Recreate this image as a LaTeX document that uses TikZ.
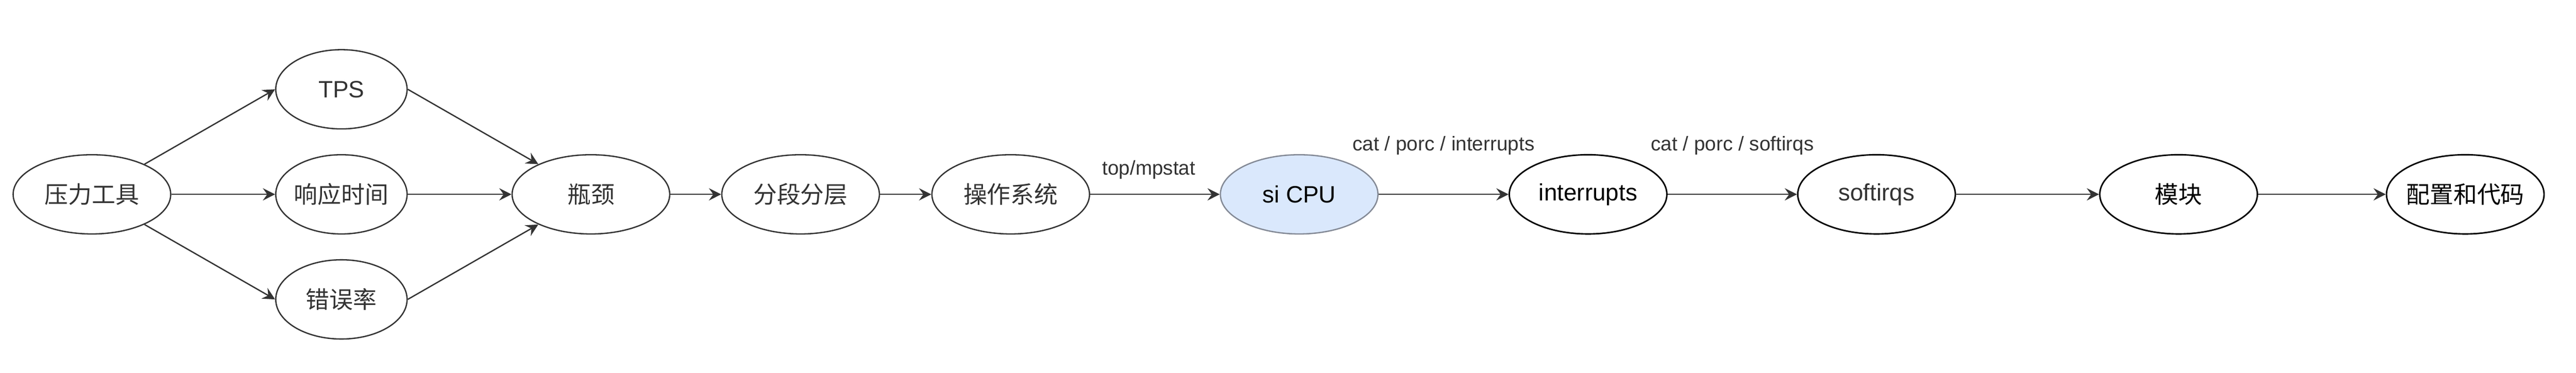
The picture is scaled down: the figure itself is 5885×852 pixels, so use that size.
\documentclass[tikz,border=0pt]{standalone}
\usepackage{fontspec}
\setmainfont{Liberation Sans}
\newfontfamily\cjk{Noto Sans CJK SC}
\usetikzlibrary{shapes.geometric,arrows.meta}
\definecolor{dk}{HTML}{333333}
\definecolor{siFill}{HTML}{DAE8FC}
\definecolor{siDraw}{HTML}{848A96}
\tikzset{
  ell/.style={ellipse, draw=dk, line width=0.75pt, minimum width=90pt, minimum height=45.25pt,
    inner sep=0pt, inner xsep=-4pt, text=dk, font=\fontsize{13.5}{16}\selectfont},
  ellnarrow/.style={ell, minimum width=75pt},
  ellk/.style={ell, draw=black, line width=0.85pt, text=black},
  conn/.style={draw=dk, line width=0.75pt, -{Stealth[length=7pt,width=7pt,inset=2.5pt]}},
  lbl/.style={text=dk, font=\fontsize{11.4}{13}\selectfont, inner sep=0pt}
}
\begin{document}
\begin{tikzpicture}[x=0.25pt,y=-0.25pt]
\useasboundingbox (0,0) rectangle (5885,852);
\node[ell] (press) at (210,444) {\cjk 压力工具};
\node[ellnarrow] (tps) at (780,204) {TPS};
\node[ellnarrow] (resp) at (780,444) {\cjk 响应时间};
\node[ellnarrow] (err) at (780,684) {\cjk 错误率};
\node[ell] (bn) at (1350,444) {\cjk 瓶颈};
\node[ell] (fd) at (1829,444) {\cjk 分段分层};
\node[ell] (os) at (2309,444) {\cjk 操作系统};
\node[ell, fill=siFill, draw=siDraw, text=black] (si) at (2968,444) {si CPU};
\node[ellk] (intr) at (3628,444) {interrupts};
\node[ellk, text=dk] (soft) at (4287,444) {softirqs};
\node[ellk] (mod) at (4977,444) {\cjk 模块};
\node[ellk] (cfg) at (5632,444) {\cjk 配置和代码};

\draw[conn] (press) -- (tps.west);
\draw[conn] (press) -- (resp);
\draw[conn] (press) -- (err.west);
\draw[conn] (tps.east) -- (bn);
\draw[conn] (resp) -- (bn);
\draw[conn] (err.east) -- (bn);
\draw[conn] (bn) -- (fd);
\draw[conn] (fd) -- (os);
\draw[conn] (os) -- node[lbl, yshift=14pt, xshift=-3.5pt] (l1) {top/mpstat} (si);
\draw[conn] (si) -- node[lbl, yshift=27.75pt] (l2) {cat / porc / interrupts} (intr);
\draw[conn] (intr) -- node[lbl, yshift=27.75pt] (l3) {cat / porc / softirqs} (soft);
\draw[conn] (soft) -- (mod);
\draw[conn] (mod) -- (cfg);
\end{tikzpicture}
\end{document}
